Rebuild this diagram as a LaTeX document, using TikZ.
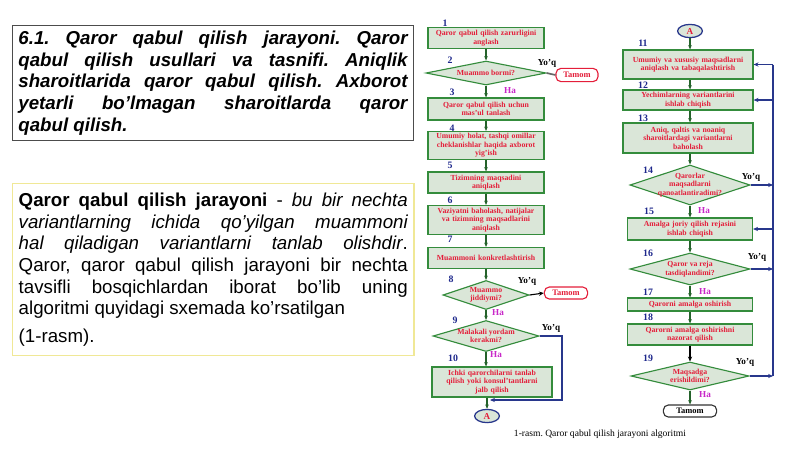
\documentclass[tikz,border=0pt]{standalone}
\usepackage{fontspec}
\setmainfont{Liberation Serif}
\newfontfamily\bodyfont{Liberation Sans}
\usetikzlibrary{shapes.geometric,arrows.meta}
\definecolor{flowgreen}{RGB}{52,140,60}
\definecolor{flowfill}{RGB}{218,230,216}
\definecolor{flowred}{RGB}{228,30,58}
\definecolor{numblue}{RGB}{30,40,140}
\definecolor{hapink}{RGB}{200,40,200}
\definecolor{loopblue}{RGB}{40,55,140}
\definecolor{paleyellow}{RGB}{240,232,150}

\tikzset{
    proc/.style={rectangle, draw=flowgreen, line width=0.8pt, fill=flowfill, text=flowred,
        font=\fontsize{5.5}{6.1}\selectfont\bfseries, align=center, inner sep=0pt, text width=2.9cm},
    cond/.style={diamond, draw=flowgreen, line width=0.8pt, fill=flowfill, inner sep=0pt},
    condtext/.style={text=flowred, font=\fontsize{5.5}{6.1}\selectfont\bfseries, align=center, inner sep=0pt},
    endbox/.style={rectangle, rounded corners=3.5pt, draw=flowred, line width=0.8pt, fill=white, text=flowred,
        font=\fontsize{6}{7}\selectfont\bfseries, minimum width=1.05cm, minimum height=0.33cm, inner sep=0pt},
    joint/.style={ellipse, draw=loopblue, line width=0.9pt, fill=flowfill, text=flowred,
        font=\fontsize{6.5}{7}\selectfont\bfseries, minimum width=0.62cm, minimum height=0.33cm, inner sep=0pt},
    stepnum/.style={text=numblue, font=\fontsize{7}{8}\selectfont\bfseries, inner sep=0pt},
    yeslabel/.style={text=hapink, font=\fontsize{6.5}{7}\selectfont\bfseries, inner sep=0pt},
    nolabel/.style={text=black, font=\fontsize{6.5}{7}\selectfont\bfseries, inner sep=0pt},
    flowarrow/.style={draw=flowgreen!70!black, line width=0.8pt, -{Stealth[length=3pt,width=2.5pt]}},
    loopline/.style={draw=loopblue, line width=0.9pt},
    textbox/.style={anchor=north west, text width=9.725cm, inner xsep=0.15cm, align=justify,
        font=\bodyfont\fontsize{13.3}{15.4}\selectfont}
}

\begin{document}
\frenchspacing
\begin{tikzpicture}[x=0.025cm, y=-0.025cm]
    \useasboundingbox (0,0) rectangle (800,449);
    % Text boxes
    \node[textbox, draw=black!70, line width=0.6pt, minimum height=2.875cm, font=\bodyfont\fontsize{13.3}{15.4}\selectfont\bfseries\itshape] (title) at (12,25)
        {\hyphenpenalty=10000 6.1. Qaror qabul qilish jarayoni. Qaror\linebreak
        qabul qilish usullari va tasnifi. Aniqlik\linebreak
        sharoitlarida qaror qabul qilish. Axborot\linebreak
        yetarli bo’lmagan sharoitlarda qaror\linebreak
        qabul qilish.};
    \node[textbox, draw=paleyellow, line width=1pt, minimum height=4.3cm] (definition) at (12,183)
        {\hyphenpenalty=10000 \textbf{Qaror qabul qilish jarayoni} - \textit{bu bir nechta\linebreak
        variantlarning ichida qo’yilgan muammoni\linebreak
        hal qiladigan variantlarni tanlab olishdir}.\linebreak
        Qaror, qaror qabul qilish jarayoni bir nechta\linebreak
        tavsifli bosqichlardan iborat bo’lib uning\linebreak
        algoritmi quyidagi sxemada ko’rsatilgan\par\vspace{4.4pt}
        (1-rasm).};

    % Left column
    \node[proc, minimum height=0.525cm] (b1) at (486,38) {Qaror qabul qilish zarurligini\\anglash};
    \node[cond, minimum width=3cm, minimum height=0.6cm, label={[condtext]center:Muammo bormi?}] (d2) at (486,73) {};
    \node[proc, minimum height=0.55cm] (b3) at (486,109) {Qaror qabul qilish uchun\\mas'ul tanlash};
    \node[proc, minimum height=0.7cm] (b4) at (486,145.5) {Umumiy holat, tashqi omillar\\cheklanishlar haqida axborot\\yig'ish};
    \node[proc, minimum height=0.525cm] (b5) at (486,182.5) {Tizimning maqsadini\\aniqlash};
    \node[proc, minimum height=0.725cm] (b6) at (486,220) {Vaziyatni baholash, natijalar\\va tizimning maqsadlarini\\aniqlash};
    \node[proc, minimum height=0.525cm] (b7) at (486,258) {Muammoni konkretlashtirish};
    \node[cond, minimum width=2.15cm, minimum height=0.725cm, label={[condtext]center:{Muammo\\jiddiymi?}}] (d8) at (486,295) {};
    \node[cond, minimum width=2.65cm, minimum height=0.775cm, label={[condtext]center:{Malakali yordam\\kerakmi?}}] (d9) at (486,336) {};
    \node[proc, text width=3cm, minimum height=0.75cm] (b10) at (492,382) {Ichki qarorchilarni tanlab\\qilish yoki konsul'tantlarni\\jalb qilish};
    \node[joint] (A1) at (487,416) {A};
    \node[endbox] (end1) at (577,75) {Tamom};
    \node[endbox, minimum width=1.08cm, minimum height=0.3cm] (end2) at (566,293) {Tamom};

    % Right column
    \node[joint] (A2) at (690,31) {A};
    \node[proc, text width=3.25cm, minimum height=0.725cm] (b11) at (688,64.5) {Umumiy va xususiy maqsadlarni\\aniqlash va tabaqalashtirish};
    \node[proc, text width=3.25cm, minimum height=0.5cm] (b12) at (688,100) {Yechimlarning variantlarini\\ishlab chiqish};
    \node[proc, text width=3.25cm, minimum height=0.75cm] (b13) at (688,138) {Aniq, qaltis va noaniq\\sharoitlardagi variantlarni\\baholash};
    \node[cond, minimum width=3cm, minimum height=1cm, label={[condtext]center:{Qarorlar\\maqsadlarni\\qanoatlantiradimi?}}] (d14) at (690,185) {};
    \node[proc, text width=3.125cm, minimum height=0.55cm] (b15) at (690,229) {Amalga joriy qilish rejasini\\ishlab chiqish};
    \node[cond, minimum width=3cm, minimum height=0.8cm, label={[condtext]center:{Qaror va reja\\tasdiqlandimi?}}] (d16) at (690,269) {};
    \node[proc, text width=3.125cm, minimum height=0.325cm] (b17) at (690,304.5) {Qarorni amalga oshirish};
    \node[proc, text width=3.125cm, minimum height=0.525cm] (b18) at (690,334.5) {Qarorni amalga oshirishni\\nazorat qilish};
    \node[cond, minimum width=2.95cm, minimum height=0.7cm, label={[condtext]center:{Maqsadga\\erishildimi?}}] (d19) at (690,376) {};
    \node[endbox, draw=black!80, text=black, minimum width=1.33cm, minimum height=0.3cm] (end3) at (690,411) {Tamom};
    \coordinate (spine) at (773,0);
    \coordinate (bypass) at (562,400);
    \coordinate (join1) at (490,400);

    % Step numbers
    \node[stepnum] (n1) at (445,23) {1};
    \node[stepnum] (n2) at (450,60) {2};
    \node[stepnum] (n3) at (452,92) {3};
    \node[stepnum] (n4) at (452,128) {4};
    \node[stepnum] (n5) at (450,165) {5};
    \node[stepnum] (n6) at (450,200) {6};
    \node[stepnum] (n7) at (450,239) {7};
    \node[stepnum] (n8) at (451,279) {8};
    \node[stepnum] (n9) at (455,320) {9};
    \node[stepnum] (n10) at (453,358) {10};
    \node[stepnum] (n11) at (643,43) {11};
    \node[stepnum] (n12) at (643,85) {12};
    \node[stepnum] (n13) at (643,118) {13};
    \node[stepnum] (n14) at (648,170) {14};
    \node[stepnum] (n15) at (649,211) {15};
    \node[stepnum] (n16) at (648,253) {16};
    \node[stepnum] (n17) at (648,292) {17};
    \node[stepnum] (n18) at (648,317) {18};
    \node[stepnum] (n19) at (648,358) {19};

    % Ha / Yo'q
    \node[yeslabel] (ha3) at (510,91) {Ha};
    \node[yeslabel] (ha9) at (498,313) {Ha};
    \node[yeslabel] (ha10) at (496,355) {Ha};
    \node[yeslabel] (ha15) at (704,211) {Ha};
    \node[yeslabel] (ha17) at (705,292) {Ha};
    \node[yeslabel] (ha19) at (705,395) {Ha};
    \node[nolabel] (yo2) at (547,63) {Yo'q};
    \node[nolabel] (yo8) at (527,281) {Yo'q};
    \node[nolabel] (yo9) at (551,328) {Yo'q};
    \node[nolabel] (yo14) at (751,177) {Yo'q};
    \node[nolabel] (yo16) at (757,257) {Yo'q};
    \node[nolabel] (yo19) at (745,362) {Yo'q};

    % Caption
    \node[font=\fontsize{6.8}{8}\selectfont] (caption) at (600,434) {1-rasm. Qaror qabul qilish jarayoni algoritmi};

    % Left connectors
    \draw[flowarrow] (b1) -- (d2);
    \draw[flowarrow] (d2) -- (b3);
    \draw[flowarrow] (b3) -- (b4);
    \draw[flowarrow] (b4) -- (b5);
    \draw[flowarrow] (b5) -- (b6);
    \draw[flowarrow] (b6) -- (b7);
    \draw[flowarrow] (b7) -- (d8);
    \draw[flowarrow] (d8) -- (d9);
    \draw[flowarrow] (d9.south) -- (d9.south |- b10.north);
    \draw[flowarrow] (A1.north |- b10.south) -- (A1.north);
    \draw[black!60, line width=1.2pt] (d2.east) -- (end1.west);
    \draw[black, line width=0.8pt, -{Stealth[length=3.5pt,width=3pt]}] (d8.east) -- (end2.west);
    \draw[loopline, -{Stealth[length=3.5pt,width=3pt]}] (d9.east) -| (bypass) -- (join1);

    % Right connectors
    \draw[flowarrow] (A2) -- (A2 |- b11.north);
    \draw[flowarrow] (A2 |- b11.south) -- (A2 |- b12.north);
    \draw[flowarrow] (A2 |- b12.south) -- (A2 |- b13.north);
    \draw[flowarrow] (A2 |- b13.south) -- (d14);
    \draw[flowarrow] (d14) -- (b15);
    \draw[flowarrow] (b15) -- (d16);
    \draw[flowarrow] (d16) -- (b17);
    \draw[flowarrow] (b17) -- (b18);
    \draw[black, line width=1pt, -{Stealth[length=3.5pt,width=3pt]}] (b18) -- (d19);
    \draw[flowarrow] (d19) -- (end3);
    \draw[loopline] (spine |- b11.east) -- (spine |- d19.east);
    \draw[loopline, -{Stealth[length=3.5pt,width=3pt]}] (d14.east) -- (spine |- d14.east);
    \draw[loopline, -{Stealth[length=3.5pt,width=3pt]}] (d16.east) -- (spine |- d16.east);
    \draw[loopline, -{Stealth[length=3.5pt,width=3pt]}] (d19.east) -- (spine |- d19.east);
    \draw[loopline, -{Stealth[length=3.5pt,width=3pt]}] (spine |- b11.east) -- (b11.east);
    \draw[loopline, -{Stealth[length=3.5pt,width=3pt]}] (spine |- b12.east) -- (b12.east);
    \draw[loopline, -{Stealth[length=3.5pt,width=3pt]}] (spine |- b15.east) -- (b15.east);
\end{tikzpicture}
\end{document}
